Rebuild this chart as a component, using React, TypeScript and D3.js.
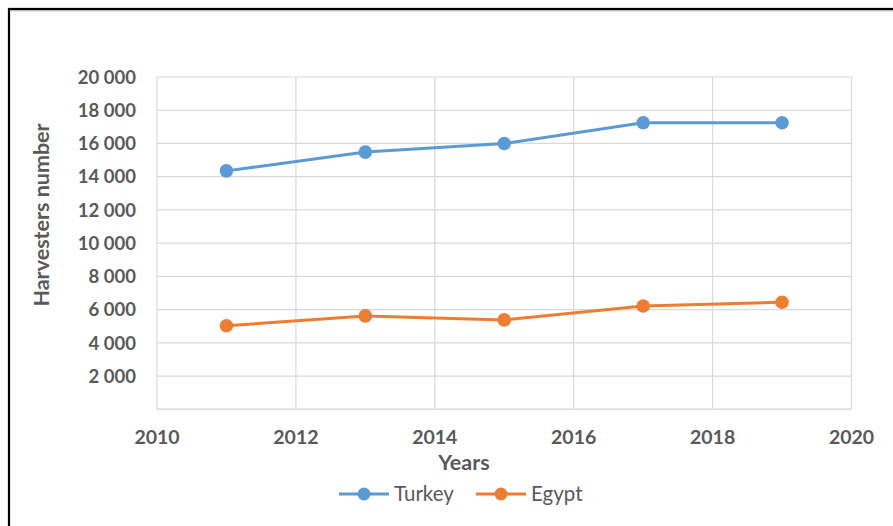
import React from "react";
import * as d3 from "d3";

const years = [2011, 2013, 2015, 2017, 2019];
const turkey = [14350, 15480, 16000, 17250, 17250];
const egypt = [5030, 5620, 5380, 6220, 6440];
const yTicks = [2000, 4000, 6000, 8000, 10000, 12000, 14000, 16000, 18000, 20000];
const xTicks = [2010, 2012, 2014, 2016, 2018, 2020];
const seriesNames = ["Turkey", "Egypt"];
const seriesColors = ["#5B9BD5", "#ED7D31"];

const W = 893;
const H = 526;
const FONT = "Lato, 'Open Sans', sans-serif";
const TEXT = "#595959";
const GRID = "#D9D9D9";

export default function App() {
  const x = d3.scaleLinear().domain([2010, 2020]).range([157, 851.5]);
  const y = d3.scaleLinear().domain([0, 20000]).range([409.3, 77]);
  const line = d3
    .line<[number, number]>()
    .x((d) => x(d[0]))
    .y((d) => y(d[1]));
  const series = [turkey, egypt];
  const fmt = (v: number) => d3.format(",")(v).replace(/,/g, " ");

  const legendX = [339, 476];

  return (
    <svg
      width={W}
      height={H}
      style={{ position: "absolute", left: 0, top: 0, background: "#fff" }}
    >
      <rect x={0} y={0} width={W} height={H} fill="#fff" />
      {/* outer border */}
      <rect x={9} y={9} width={W + 20} height={H + 20} fill="none" stroke="#000" strokeWidth={2.2} />
      <line x1={10} x2={W} y1={10.8} y2={10.8} stroke="#9a9a9a" strokeWidth={0.8} />

      {/* horizontal grid */}
      {yTicks.map((t) => (
        <line key={"h" + t} x1={x(2010)} x2={x(2020)} y1={y(t)} y2={y(t)} stroke={GRID} strokeWidth={1.2} />
      ))}
      {/* vertical grid */}
      {xTicks.map((t) => (
        <line key={"v" + t} x1={x(t)} x2={x(t)} y1={y(20000)} y2={y(0)} stroke={GRID} strokeWidth={1.2} />
      ))}
      <line x1={x(2010)} x2={x(2020)} y1={y(0)} y2={y(0)} stroke={GRID} strokeWidth={1.4} />

      {/* y tick labels */}
      {yTicks.map((t) => (
        <text
          key={"yl" + t}
          x={136}
          y={y(t)}
          dy="0.36em"
          textAnchor="end"
          fontFamily={FONT}
          fontWeight={700}
          fontSize={18.5}
          fill={TEXT}
        >
          {fmt(t)}
        </text>
      ))}
      {/* x tick labels */}
      {xTicks.map((t) => (
        <text
          key={"xl" + t}
          x={x(t)}
          y={444}
          textAnchor="middle"
          fontFamily={FONT}
          fontWeight={700}
          fontSize={19.5}
          fill={TEXT}
        >
          {t}
        </text>
      ))}

      {/* axis titles */}
      <text x={464} y={470} textAnchor="middle" fontFamily={FONT} fontWeight={700} fontSize={21.5} fill={TEXT}>
        Years
      </text>
      <text
        transform={`translate(49,215) rotate(-90)`}
        textAnchor="middle"
        fontFamily={FONT}
        fontWeight={700}
        fontSize={21.5}
        fill={TEXT}
      >
        Harvesters number
      </text>

      {/* series */}
      {series.map((vals, i) => {
        const pts = years.map((yr, j) => [yr, vals[j]] as [number, number]);
        return (
          <g key={"s" + i}>
            <path d={line(pts) || ""} fill="none" stroke={seriesColors[i]} strokeWidth={3} strokeLinejoin="round" />
            {pts.map((p, j) => (
              <circle key={j} cx={x(p[0])} cy={y(p[1])} r={6.8} fill={seriesColors[i]} />
            ))}
          </g>
        );
      })}

      {/* legend */}
      {seriesNames.map((n, i) => (
        <g key={"lg" + i}>
          <line x1={legendX[i]} x2={legendX[i] + 50} y1={494} y2={494} stroke={seriesColors[i]} strokeWidth={3} />
          <circle cx={legendX[i] + 25} cy={494} r={6.5} fill={seriesColors[i]} />
          <text
            x={legendX[i] + 55}
            y={494}
            dy="0.36em"
            fontFamily={FONT}
            fontSize={20.5}
            fill={TEXT}
          >
            {n}
          </text>
        </g>
      ))}
    </svg>
  );
}
